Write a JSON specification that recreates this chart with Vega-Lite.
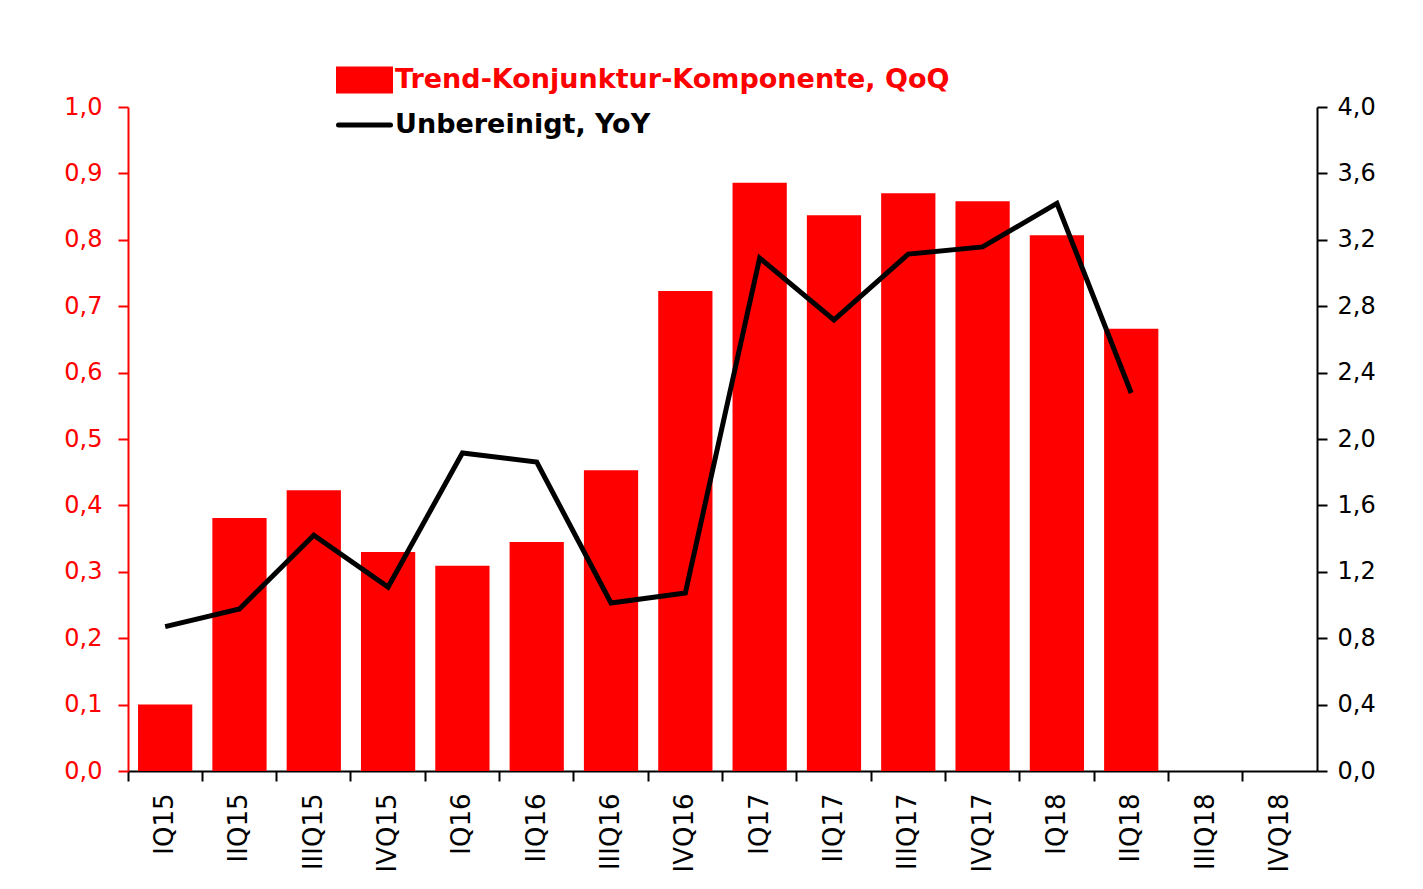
{
  "$schema": "https://vega.github.io/schema/vega-lite/v6.json",
  "width": 1189,
  "height": 664,
  "autosize": {"type": "none"},
  "padding": {"left": 128, "top": 107, "right": 106, "bottom": 118},
  "background": "white",
  "config": {
    "locale": {"number": {"decimal": ",", "thousands": ".", "grouping": [3], "currency": ["", "€"]}},
    "view": {"stroke": null},
    "font": "DejaVu Sans"
  },
  "data": {
    "values": [
      {"q": "IQ15", "trend": 0.10, "yoy": 0.87},
      {"q": "IIQ15", "trend": 0.381, "yoy": 0.976},
      {"q": "IIIQ15", "trend": 0.423, "yoy": 1.42},
      {"q": "IVQ15", "trend": 0.330, "yoy": 1.108},
      {"q": "IQ16", "trend": 0.309, "yoy": 1.916},
      {"q": "IIQ16", "trend": 0.345, "yoy": 1.861},
      {"q": "IIIQ16", "trend": 0.453, "yoy": 1.012},
      {"q": "IVQ16", "trend": 0.723, "yoy": 1.072},
      {"q": "IQ17", "trend": 0.886, "yoy": 3.09},
      {"q": "IIQ17", "trend": 0.837, "yoy": 2.717},
      {"q": "IIIQ17", "trend": 0.870, "yoy": 3.114},
      {"q": "IVQ17", "trend": 0.858, "yoy": 3.157},
      {"q": "IQ18", "trend": 0.807, "yoy": 3.42},
      {"q": "IIQ18", "trend": 0.666, "yoy": 2.277},
      {"q": "IIIQ18", "trend": null, "yoy": null},
      {"q": "IVQ18", "trend": null, "yoy": null}
    ]
  },
  "layer": [
    {
      "mark": {"type": "bar", "width": {"band": 0.73}},
      "encoding": {
        "x": {
          "field": "q", "type": "nominal", "sort": null,
          "scale": {"domain": ["IQ15","IIQ15","IIIQ15","IVQ15","IQ16","IIQ16","IIIQ16","IVQ16","IQ17","IIQ17","IIIQ17","IVQ17","IQ18","IIQ18","IIIQ18","IVQ18"], "paddingInner": 0, "paddingOuter": 0},
          "axis": {
            "title": null, "bandPosition": 0, "labelOffset": 0, "labelAngle": 270,
            "labelFontSize": 26, "labelColor": "black", "labelPadding": 12,
            "tickSize": 10, "tickColor": "black", "tickWidth": 2,
            "domainColor": "black", "domainWidth": 2, "grid": false
          }
        },
        "y": {
          "field": "trend", "type": "quantitative",
          "scale": {"domain": [0, 1], "nice": false},
          "axis": {
            "orient": "left", "title": null, "values": [0,0.1,0.2,0.3,0.4,0.5,0.6,0.7,0.8,0.9,1.0],
            "format": ".1f", "labelColor": "#ff0000", "labelFontSize": 24, "labelPadding": 16,
            "tickColor": "#ff0000", "tickSize": 10, "tickWidth": 2,
            "domainColor": "#ff0000", "domainWidth": 2, "grid": false
          }
        },
        "color": {
          "datum": "Trend-Konjunktur-Komponente, QoQ",
          "scale": {"domain": ["Trend-Konjunktur-Komponente, QoQ", "Unbereinigt, YoY"], "range": ["#ff0000", "#000000"]},
          "legend": {
            "orient": "none", "legendX": 208, "legendY": -47, "title": null, "padding": 0,
            "labelFontSize": 27, "labelFontWeight": "bold", "labelLimit": 1000, "labelOffset": 2,
            "symbolSize": 2704, "symbolStrokeWidth": 5, "clipHeight": 40, "rowPadding": 5,
            "encode": {
              "symbols": {"update": {
                "shape": {"signal": "datum.value === 'Unbereinigt, YoY' ? 'M-1,0H1' : 'M-1,-0.42H1V0.42H-1Z'"},
                "fill": {"signal": "datum.value === 'Unbereinigt, YoY' ? 'transparent' : '#ff0000'"},
                "stroke": {"signal": "datum.value === 'Unbereinigt, YoY' ? '#000000' : 'transparent'"},
                "strokeWidth": {"value": 5},
                "strokeCap": {"value": "round"},
                "opacity": {"value": 1}
              }},
              "labels": {"update": {
                "fill": {"signal": "datum.value === 'Unbereinigt, YoY' ? '#000000' : '#ff0000'"}
              }}
            }
          }
        }
      }
    },
    {
      "mark": {"type": "line", "strokeWidth": 5},
      "encoding": {
        "x": {"field": "q", "type": "nominal", "sort": null},
        "y": {
          "field": "yoy", "type": "quantitative",
          "scale": {"domain": [0, 4], "nice": false},
          "axis": {
            "orient": "right", "title": null, "values": [0,0.4,0.8,1.2,1.6,2.0,2.4,2.8,3.2,3.6,4.0],
            "format": ".1f", "labelColor": "black", "labelFontSize": 24, "labelPadding": 10,
            "tickColor": "black", "tickSize": 10, "tickWidth": 2,
            "domainColor": "black", "domainWidth": 2, "grid": false
          }
        },
        "color": {"datum": "Unbereinigt, YoY"}
      }
    }
  ],
  "resolve": {"scale": {"y": "independent"}}
}
